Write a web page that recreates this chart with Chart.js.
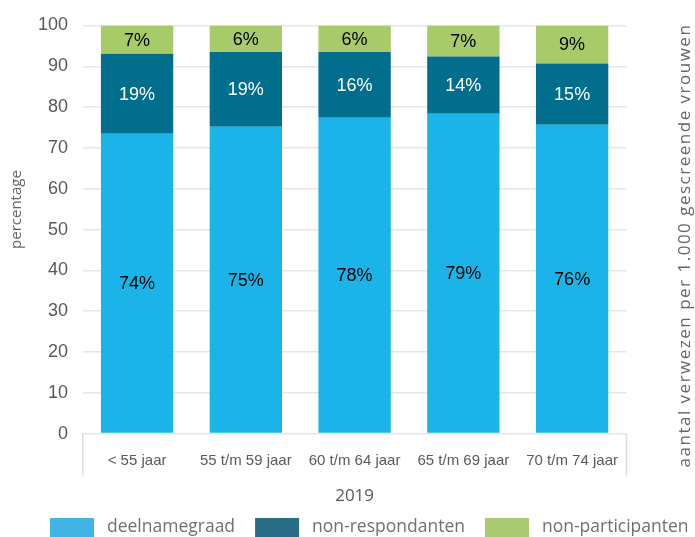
<!DOCTYPE html>
<html>
<head>
<meta charset="utf-8">
<script src="https://cdn.jsdelivr.net/npm/chart.js@4.4.1/dist/chart.umd.min.js"></script>
<style>
  html, body { margin: 0; padding: 0; background: #fff; }
  #wrap { width: 695px; height: 537px; }
</style>
</head>
<body>
<div id="wrap"><canvas id="chart"></canvas></div>
<script>
// Data
const categories = ['< 55 jaar', '55 t/m 59 jaar', '60 t/m 64 jaar', '65 t/m 69 jaar', '70 t/m 74 jaar'];
const deelnamegraad = [73.5, 75.2, 77.4, 78.4, 75.7];
const nonRespondanten = [19.6, 18.3, 16.1, 14.0, 15.0];
const nonParticipanten = [6.9, 6.5, 6.5, 7.6, 9.3];
// percentages as printed in the bars
const labelsDeelname = ['74%', '75%', '78%', '79%', '76%'];
const labelsNonResp = ['19%', '19%', '16%', '14%', '15%'];
const labelsNonPart = ['7%', '6%', '6%', '7%', '9%'];

const barColors = ['#1bb4e8', '#006e8c', '#a8cb69'];
const legendColors = ['#41b4e6', '#286c88', '#a9cc70'];
const labelColors = ['#000', '#fff', '#000'];
const barLabels = [labelsDeelname, labelsNonResp, labelsNonPart];

Chart.defaults.font.family = '"Liberation Sans", Arial, sans-serif';
Chart.defaults.animation = false;

// value labels centred in every segment
const segmentLabels = {
    id: 'segmentLabels',
    afterDatasetsDraw(chart) {
        const ctx = chart.ctx;
        ctx.save();
        ctx.font = '18px "Liberation Sans", Arial, sans-serif';
        ctx.textAlign = 'center';
        ctx.textBaseline = 'middle';
        chart.data.datasets.forEach((ds, i) => {
            const meta = chart.getDatasetMeta(i);
            meta.data.forEach((bar, j) => {
                ctx.fillStyle = labelColors[i];
                ctx.fillText(barLabels[i][j], bar.x, (bar.y + bar.base) / 2 + 1);
            });
        });
        ctx.restore();
    }
};

// side lines of the category label box, both axis titles and the legend row
const decorations = {
    id: 'decorations',
    afterDraw(chart) {
        const ctx = chart.ctx;
        const x = chart.scales.x;
        const area = chart.chartArea;
        const midY = (area.top + area.bottom) / 2;
        ctx.save();
        ctx.strokeStyle = '#dedede';
        ctx.lineWidth = 1.5;
        [x.left, x.right].forEach(px => {
            ctx.beginPath();
            ctx.moveTo(px, area.bottom);
            ctx.lineTo(px, area.bottom + 43);
            ctx.stroke();
        });

        ctx.textBaseline = 'middle';

        // legend
        ctx.font = '17.5px "Open Sans", sans-serif';
        ctx.textAlign = 'left';
        let lx = 50;
        const ly = 518;
        chart.data.datasets.forEach((ds, i) => {
            ctx.fillStyle = legendColors[i];
            ctx.fillRect(lx, ly, 44, 19);
            ctx.fillStyle = '#707070';
            ctx.fillText(ds.label, lx + 57, ly + 9);
            lx += 57 + ctx.measureText(ds.label).width + 20;
        });

        ctx.fillStyle = '#666';
        ctx.textAlign = 'center';

        ctx.save();
        ctx.translate(17, midY - 20);
        ctx.rotate(-Math.PI / 2);
        ctx.font = '15px "Open Sans", sans-serif';
        ctx.fillText('percentage', 0, 0);
        ctx.restore();

        const y2 = chart.scales.y2;
        ctx.translate(y2.right - 10, midY + 16);
        ctx.rotate(-Math.PI / 2);
        ctx.font = '17px "Open Sans", sans-serif';
        ctx.letterSpacing = '1.5px';
        ctx.fillText('aantal verwezen per 1.000 gescreende vrouwen', 0, 0);
        ctx.restore();
    }
};

new Chart(document.getElementById('chart'), {
    type: 'bar',
    data: {
        labels: categories,
        datasets: [
            { label: 'deelnamegraad', data: deelnamegraad, backgroundColor: barColors[0] },
            { label: 'non-respondanten', data: nonRespondanten, backgroundColor: barColors[1] },
            { label: 'non-participanten', data: nonParticipanten, backgroundColor: barColors[2] }
        ]
    },
    options: {
        responsive: true,
        maintainAspectRatio: false,
        layout: { padding: { left: 0, right: 0, top: 21, bottom: 36 } },
        datasets: { bar: { categoryPercentage: 1, barPercentage: 0.665 } },
        scales: {
            x: {
                stacked: true,
                grid: { display: false, drawTicks: false },
                border: { display: false },
                ticks: { padding: 18, color: '#5a5a5a', font: { size: 15 }, maxRotation: 0 },
                title: {
                    display: true, text: '2019', color: '#595959',
                    font: { family: '"Open Sans", sans-serif', size: 17 },
                    padding: { top: -2, bottom: -5 }
                }
            },
            y: {
                stacked: true,
                min: 0, max: 100,
                grid: { color: '#e6e6e6', lineWidth: 1.5, drawTicks: false },
                border: { display: false },
                ticks: { stepSize: 10, padding: 14.7, color: '#595959', font: { size: 18 } },
                afterFit: scale => { scale.width = 82.7; }
            },
            // empty right axis, only reserves room for the second title
            y2: {
                position: 'right',
                min: 0, max: 100,
                grid: { display: false },
                border: { display: false },
                ticks: { display: false },
                afterFit: scale => { scale.width = 68.5; }
            }
        },
        plugins: {
            tooltip: { enabled: false },
            legend: { display: false }
        }
    },
    plugins: [segmentLabels, decorations]
});
</script>
</body>
</html>
